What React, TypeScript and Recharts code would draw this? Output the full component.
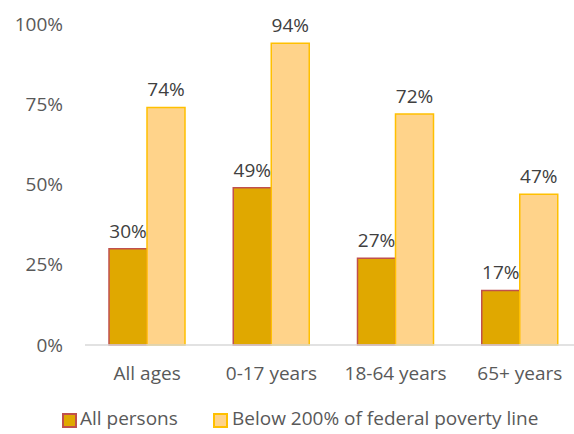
import React from "react";
import { BarChart, Bar, XAxis, YAxis, Legend, LabelList } from "recharts";

const categories = ["All ages", "0-17 years", "18-64 years", "65+ years"];
const allPersons = [30, 49, 27, 17];
const below200 = [74, 94, 72, 47];
const yTicks = [0, 25, 50, 75, 100];

const data = categories.map((c, i) => ({ name: c, all: allPersons[i], below: below200[i] }));

const FONT = "'Open Sans', sans-serif";

const LegendContent = () => (
  <div style={{ position: "relative", height: 24, fontFamily: FONT, fontSize: 19, color: "#595959" }}>
    <div style={{ position: "absolute", left: 62, top: 5, width: 11, height: 11, background: "#E0A800", border: "2px solid #C0504D" }} />
    <div style={{ position: "absolute", left: 80, top: -3, whiteSpace: "nowrap" }}>All persons</div>
    <div style={{ position: "absolute", left: 213, top: 5, width: 11, height: 11, background: "#FFD38A", border: "2px solid #FFC000" }} />
    <div style={{ position: "absolute", left: 232, top: -3, whiteSpace: "nowrap" }}>Below 200% of federal poverty line</div>
  </div>
);

export default function App() {
  return (
    <div style={{ position: "fixed", left: 0, top: 0, width: 574, height: 434, overflow: "hidden", background: "#fff" }}>
      <BarChart
        width={582}
        height={434}
        data={data}
        margin={{ top: 24, right: 0, left: 0, bottom: 2 }}
        barGap={0}
        barCategoryGap={24}
      >
        <YAxis
          domain={[0, 100]}
          ticks={yTicks}
          width={85}
          axisLine={false}
          tickLine={false}
          tickSize={0}
          tickMargin={22}
          tickFormatter={(v) => `${v}%`}
          tick={{ fill: "#595959", fontSize: 19, fontFamily: FONT }}
        />
        <XAxis
          dataKey="name"
          axisLine={{ stroke: "#D9D9D9", strokeWidth: 1.5 }}
          tickLine={false}
          tickSize={0}
          tickMargin={22}
          height={63}
          tick={{ fill: "#595959", fontSize: 19, fontFamily: FONT }}
        />
        <Legend verticalAlign="bottom" content={<LegendContent />} />
        <Bar dataKey="all" name="All persons" fill="#E0A800" stroke="#C0504D" strokeWidth={1.5} barSize={38} isAnimationActive={false}>
          <LabelList dataKey="all" position="top" offset={11} formatter={(v) => `${v}%`} style={{ fill: "#404040", fontSize: 19, fontFamily: FONT }} />
        </Bar>
        <Bar dataKey="below" name="Below 200% of federal poverty line" fill="#FFD38A" stroke="#FFC000" strokeWidth={1.5} barSize={38} isAnimationActive={false}>
          <LabelList dataKey="below" position="top" offset={11} formatter={(v) => `${v}%`} style={{ fill: "#404040", fontSize: 19, fontFamily: FONT }} />
        </Bar>
      </BarChart>
    </div>
  );
}
